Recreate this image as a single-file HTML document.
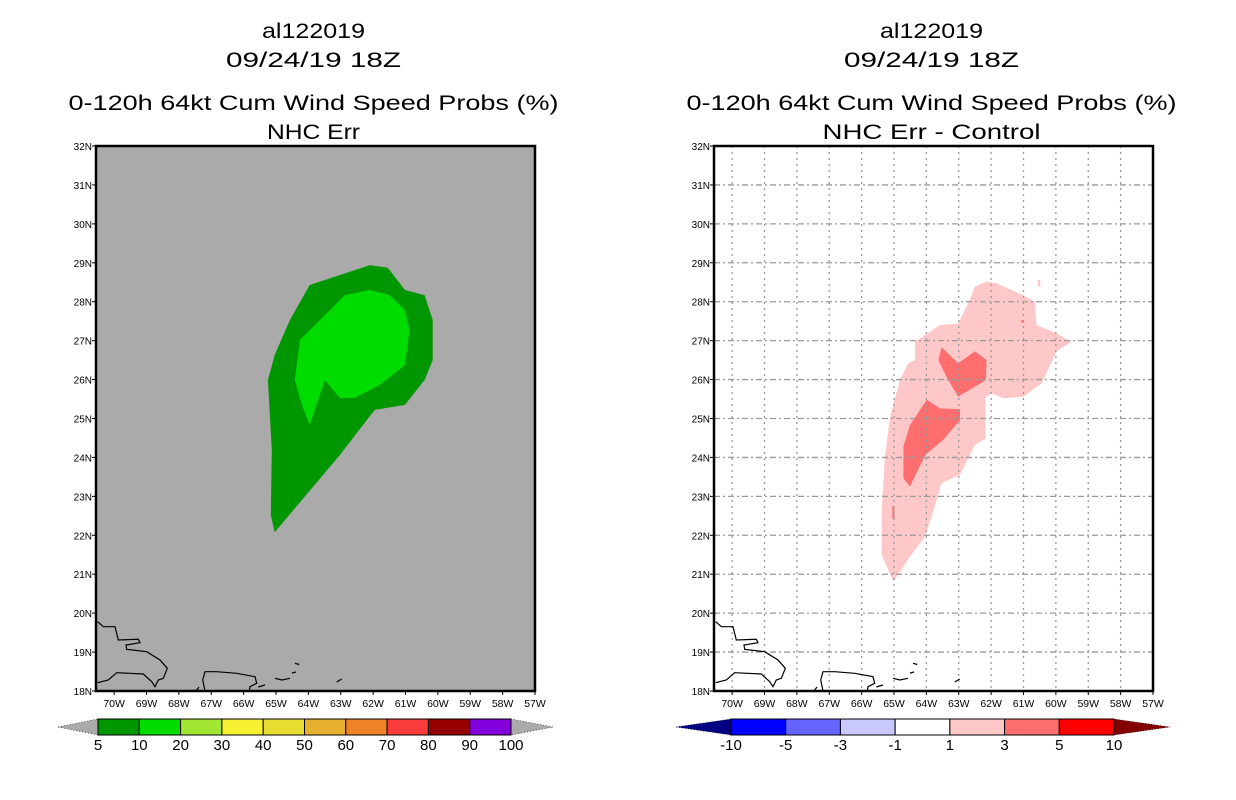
<!DOCTYPE html>
<html><head><meta charset="utf-8"><style>
html,body{margin:0;padding:0;background:#fff;}
svg{display:block;font-family:"Liberation Sans",sans-serif;}
</style></head><body>
<svg id="fig" width="1236" height="800" viewBox="0 0 1236 800" xmlns="http://www.w3.org/2000/svg"></svg>
<script>
// ---- data ----
const lonTicks = [-70,-69,-68,-67,-66,-65,-64,-63,-62,-61,-60,-59,-58,-57];
const latTicks = [18,19,20,21,22,23,24,25,26,27,28,29,30,31,32];
const leftLevels = ["5","10","20","30","40","50","60","70","80","90","100"];
const leftColors = ["#009600","#00dc00","#a0e632","#f5f032","#e6dc32","#e6af2d","#f08228","#fa3c3c","#960000","#8200dc"];
const rightLevels = ["-10","-5","-3","-1","1","3","5","10"];
const rightColors = ["#0000ff","#6464ff","#c8c8ff","#ffffff","#ffc8c8","#ff6e6e","#ff0000"];
// contour polygons: [lon, lat]
const green5Lon = [-63.96,-62.10,-61.55,-61.02,-60.41,-60.16,-60.16,-60.41,-61.02,-61.95,-63.03,-65.04,-65.16,-65.13,-65.25,-65.04,-64.57];
const green5Lat = [28.43,28.94,28.87,28.30,28.17,27.53,26.50,25.99,25.35,25.22,24.06,22.08,22.52,24.19,25.99,26.63,27.53];
const green10Lon = [-62.87,-62.10,-61.49,-61.02,-60.87,-61.02,-61.79,-62.57,-63.03,-63.49,-63.96,-64.20,-64.42,-64.26,-63.80];
const green10Lat = [28.17,28.30,28.17,27.79,27.27,26.37,25.86,25.53,25.53,25.99,24.83,25.35,25.99,27.02,27.40];
const pink1Lon = [-65.02,-65.38,-65.38,-65.28,-65.12,-64.82,-64.56,-64.35,-64.35,-63.58,-63.02,-62.66,-62.50,-62.14,-61.83,-61.01,-60.65,-60.60,-60.08,-59.52,-59.98,-60.44,-61.01,-61.63,-61.99,-62.19,-62.16,-62.50,-62.96,-63.53,-63.84,-64.04,-64.51];
const pink1Lat = [20.81,21.50,22.65,24.02,25.05,25.99,26.42,26.50,26.97,27.40,27.44,28.05,28.39,28.52,28.47,28.17,28.00,27.40,27.23,26.97,26.72,25.90,25.56,25.52,25.65,25.52,24.49,24.32,23.55,23.34,22.48,21.97,21.45];
const pink3aLon = [-63.53,-63.02,-62.50,-62.14,-62.16,-63.02,-63.38,-63.63];
const pink3aLat = [26.83,26.42,26.73,26.50,25.99,25.56,26.07,26.50];
const pink3bLon = [-63.99,-63.58,-62.96,-62.96,-63.48,-64.04,-64.51,-64.71,-64.71,-64.51];
const pink3bLat = [25.48,25.26,25.24,24.96,24.45,24.06,23.25,23.47,24.28,24.83];
const pinkDotLon = [-60.56,-60.48,-60.48,-60.56];
const pinkDotLat = [28.56,28.56,28.40,28.40];
const redDotLon = [-61.10,-60.98,-61.02];
const redDotLat = [27.52,27.52,27.44];
const redSliverLon = [-65.05,-64.99,-64.99,-65.05];
const redSliverLat = [22.75,22.75,22.42,22.42];

// ---- geometry ----
const LON0=-70.56, LON1=-57, LAT0=18, LAT1=32, PW=439, PH=545, PT=146;
function xs(lon, left){return left+(lon-LON0)/(LON1-LON0)*PW;}
function ys(lat){return PT+(LAT1-lat)/(LAT1-LAT0)*PH;}
const NS="http://www.w3.org/2000/svg";
const svg=document.getElementById('fig');
function mk(tag, attrs, parent){const e=document.createElementNS(NS,tag);for(const k in attrs)e.setAttribute(k,attrs[k]);(parent||svg).appendChild(e);return e;}
function txt(s,x,y,size,anchor,len,parent){const t=mk('text',{x:x,y:y,'font-size':size,'text-anchor':anchor||'middle',fill:'#000'},parent);if(len){t.setAttribute('textLength',len);t.setAttribute('lengthAdjust','spacingAndGlyphs');}t.textContent=s;return t;}
function poly(lons,lats,left,fill,parent){const pts=lons.map((l,i)=>xs(l,left).toFixed(1)+','+ys(lats[i]).toFixed(1)).join(' ');return mk('polygon',{points:pts,fill:fill},parent);}

const coast = [
 "M1.7,475.7 L7.3,480.7 L19,480.7 L22.3,494 L42.3,493.3 L44,496.7 L30,499 L30.7,503.3 L50.7,505.7 L64,514 L71.3,522.3 L67.3,532.3 L62.3,534 L59,540.7 L55.7,535.7 L47.3,528 L20.7,526.7 L12.3,534 L1.7,536.7",
 "M109,545 L106.7,534 L109,525.7 L120.7,525.7 L140.7,527.3 L159,530.7 L160.7,537.3 L154,540.7 L153.3,545",
 "M179,532.3 L186,534 L194,532.3 M199,517.3 L203.3,518.5 M240.7,536 L245.7,533 M162.3,541 L169,539 M196,527 L200,526 M100,545 L103,541"
];

function panel(left, name, sub, subLen, isLeft){
  const g=mk('g',{});
  
  
  const cx=left+PW/2-2;
  let t;
  t=txt('al122019',cx,38,21,'middle',103,g);  
  t=txt('09/24/19 18Z',cx,67,21,'middle',175,g);  
  t=txt('0-120h 64kt Cum Wind Speed Probs (%)',cx,110,21,'middle',490,g);  
  t=txt(sub,cx,139,21,'middle',subLen,g);  
  const bg=mk('rect',{x:left,y:PT,width:PW,height:PH,fill:isLeft?'#aaaaaa':'#ffffff'},g);
   
  if(isLeft){
    let p=poly(green5Lon,green5Lat,left,leftColors[0],g);  
    p=poly(green10Lon,green10Lat,left,leftColors[1],g);  
  } else {
    let p=poly(pink1Lon,pink1Lat,left,rightColors[4],g);  
    p=poly(pinkDotLon,pinkDotLat,left,rightColors[4],g);  
    p=poly(pink3aLon,pink3aLat,left,rightColors[5],g);  
    p=poly(pink3bLon,pink3bLat,left,rightColors[5],g);  
    p=poly(redDotLon,redDotLat,left,rightColors[5],g);  
    p=poly(redSliverLon,redSliverLat,left,rightColors[5],g);  
    lonTicks.forEach(l=>{const x=xs(l,left);const ln=mk('line',{x1:x,y1:PT,x2:x,y2:PT+PH,stroke:'#999','stroke-width':1.3,'stroke-dasharray':'2,4'},g);
       });
    latTicks.forEach(l=>{const y=ys(l);const ln=mk('line',{x1:left,y1:y,x2:left+PW,y2:y,stroke:'#999','stroke-width':1.3,'stroke-dasharray':'6,3,2,3'},g);
       });
  }
  const cg=mk('g',{transform:'translate('+left+','+PT+')',fill:'none',stroke:'#000','stroke-width':1.2},g);
   
  coast.forEach(d=>mk('path',{d:d},cg));
  const fr=mk('rect',{x:left,y:PT,width:PW,height:PH,fill:'none',stroke:'#000','stroke-width':2.5},g);
   
  lonTicks.forEach(l=>{const x=xs(l,left);
    mk('line',{x1:x,y1:PT+PH,x2:x,y2:PT+PH+4,stroke:'#000','stroke-width':1},g);
    const tl=txt(Math.abs(l)+'W',x,PT+PH+16,10.5,'middle',null,g);
     });
  latTicks.forEach(l=>{const y=ys(l);
    mk('line',{x1:left-4,y1:y,x2:left,y2:y,stroke:'#000','stroke-width':1},g);
    const tl=txt(l+'N',left-4,y+4,10,'end',null,g);
     });
}
panel(96,'left-map-panel','NHC Err',93,true);
panel(714,'right-map-panel','NHC Err - Control',218,false);

function colorbar(x0,x1,tipL,tipR,colors,levels,tipLC,tipRC,name){
  const g=mk('g',{});
  
  
  const y0=719,y1=735,ym=727,w=(x1-x0)/colors.length;
  mk('polygon',{points:tipL+','+ym+' '+x0+','+y0+' '+x0+','+y1,fill:tipLC,stroke:'#000','stroke-width':0.6,'stroke-dasharray':'1,2'},g);
  mk('polygon',{points:tipR+','+ym+' '+x1+','+y0+' '+x1+','+y1,fill:tipRC,stroke:'#000','stroke-width':0.6,'stroke-dasharray':'1,2'},g);
  colors.forEach((c,i)=>{const r=mk('rect',{x:x0+i*w,y:y0,width:w,height:y1-y0,fill:c,stroke:'#000','stroke-width':1},g);
     });
  levels.forEach((s,i)=>{const t=txt(s,x0+i*w,750,15,'middle',null,g);
     });
}
colorbar(98,511,58,553,leftColors,leftLevels,'#aaaaaa','#aaaaaa','left-colorbar');
colorbar(731,1114,676,1170,rightColors,rightLevels,'#000082','#820000','right-colorbar');
</script>
</body></html>
